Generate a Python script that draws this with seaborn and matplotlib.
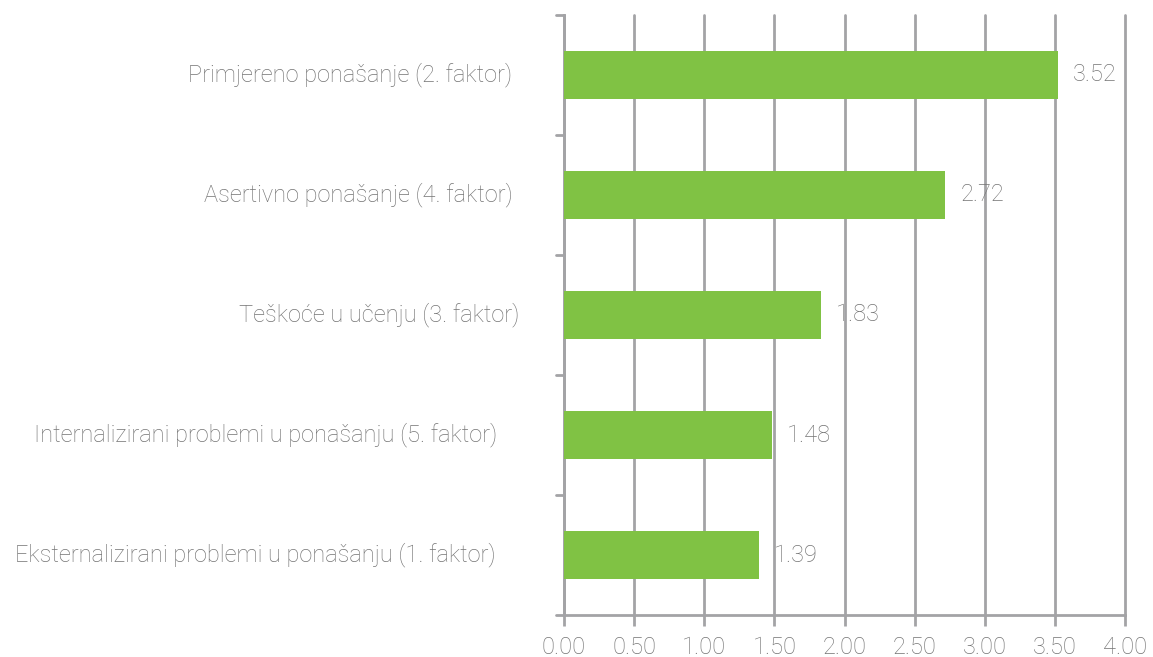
import matplotlib
matplotlib.use("Agg")
import matplotlib.pyplot as plt
import seaborn as sns
import pandas as pd

categories = [
    "Primjereno ponašanje (2. faktor)",
    "Asertivno ponašanje (4. faktor)",
    "Teškoće u učenju (3. faktor)",
    "Internalizirani problemi u ponašanju (5. faktor)",
    "Eksternalizirani problemi u ponašanju (1. faktor)",
]
values = [3.52, 2.72, 1.83, 1.48, 1.39]
x_ticks = [0.0, 0.5, 1.0, 1.5, 2.0, 2.5, 3.0, 3.5, 4.0]

df = pd.DataFrame({"factor": categories, "mean": values})

sns.set_style("white")
plt.rcParams["font.family"] = ["Roboto", "DejaVu Sans"]

FS = 17
text_color = "#747474"
grid_color = "#a3a3a6"
bar_color = "#80c244"

fig = plt.figure(figsize=(11.53, 6.57), dpi=100)
ax = fig.add_axes([0.4892, 0.0639, 0.4865, 0.9133])

sns.barplot(data=df, x="mean", y="factor", order=categories, color=bar_color,
            width=0.4, saturation=1, linewidth=0, ax=ax, zorder=3)

ax.set_xlim(0, 4.0)
ax.set_ylim(4.5, -0.5)
ax.set_xticks(x_ticks)
ax.set_xticklabels([f"{t:.2f}" for t in x_ticks], fontsize=FS,
                   color=text_color, fontweight="light")
ax.set_xlabel("")
ax.set_ylabel("")

# Category labels drawn as text to the left of the axis
label_gap = [-52, -51, -45, -67, -68]
ax.set_yticks([])
for i, cat in enumerate(categories):
    ax.annotate(cat, xy=(0, i), xycoords=("axes fraction", "data"),
                xytext=(label_gap[i], 0), textcoords="offset pixels",
                ha="right", va="center", fontsize=FS, color=text_color,
                fontweight="light")

# Category boundary ticks on the left spine
for b in [-0.5, 0.5, 1.5, 2.5, 3.5, 4.5]:
    ax.plot([-0.014, 0], [b, b], transform=ax.get_yaxis_transform(),
            color=grid_color, lw=2, clip_on=False, zorder=4)

ax.grid(axis="x", color=grid_color, lw=2, zorder=0)
ax.grid(axis="y", visible=False)
for line in ax.get_xgridlines():
    line.set_clip_on(False)
for side in ["top", "right"]:
    ax.spines[side].set_visible(False)
for side in ["left", "bottom"]:
    ax.spines[side].set_color(grid_color)
    ax.spines[side].set_linewidth(2)
ax.tick_params(axis="x", direction="out", length=8, width=2, color=grid_color,
               pad=7, bottom=True)

for i, v in enumerate(values):
    ax.annotate(f"{v:.2f}", xy=(v, i), xytext=(15, 0),
                textcoords="offset pixels", ha="left", va="center",
                fontsize=FS, color=text_color, fontweight="light")

fig.savefig("out.png", dpi=100)
